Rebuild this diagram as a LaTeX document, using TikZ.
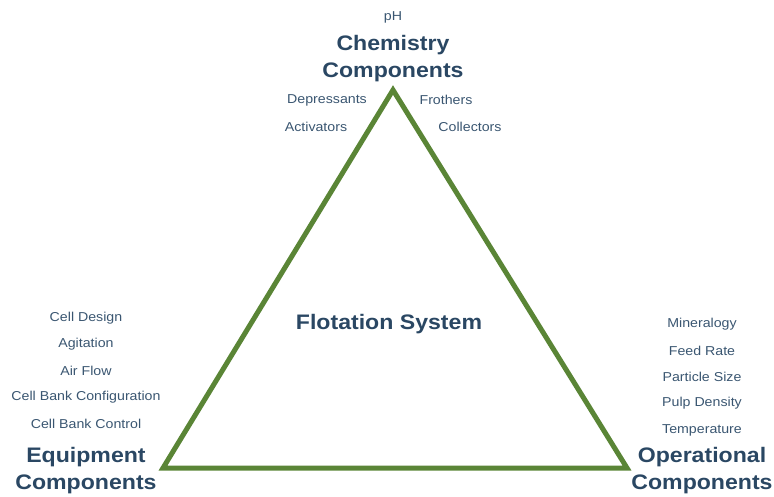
\documentclass[tikz,border=0pt]{standalone}
\usepackage{fontspec}
\setmainfont[FakeStretch=1.1]{Liberation Sans}
\usepackage{tikz}
\usepackage{xcolor}
\usetikzlibrary{positioning}

\definecolor{titleblue}{HTML}{2A4763}
\definecolor{itemblue}{HTML}{3A5671}
\definecolor{triggreen}{HTML}{5A8536}

\tikzset{
  heading/.style={font=\fontsize{21}{27}\selectfont\bfseries, text=titleblue, align=center, inner sep=0pt},
  item/.style={font=\fontsize{12.9}{14}\selectfont, text=itemblue, inner sep=0pt},
}

\begin{document}
\begin{tikzpicture}[x=1pt, y=-1pt]
  \useasboundingbox (0,0) rectangle (774,496);

  % === TRIANGLE ===
  \coordinate (top) at (393,90);
  \coordinate (bl) at (163,468);
  \coordinate (br) at (627,468);
  \draw[triggreen, line width=5pt, line join=miter] (top) -- (br) -- (bl) -- cycle;

  \node[heading] (flot) at (389,324) {Flotation System};

  % === TOP: chemistry ===
  \node[item] (ph) at (393,17) {pH};
  \node[heading] (chem) at (393,59) {Chemistry\\Components};
  \node[item] (depr) at (327,100) {Depressants};
  \node[item] (froth) at (446,100) {Frothers};
  \node[item] (activ) at (316,127) {Activators};
  \node[item] (coll) at (470,127) {Collectors};

  % === LEFT: equipment ===
  \foreach \t [count=\i] in {Cell Design, Agitation, Air Flow, Cell Bank Configuration, Cell Bank Control} {
    \node[item] (eq\i) at (86, 318+\i*26.5-26.5) {\t};
  }
  \node[heading] (equip) at (86,471) {Equipment\\Components};

  % === RIGHT: operational ===
  \foreach \t [count=\i] in {Mineralogy, Feed Rate, Particle Size, Pulp Density, Temperature} {
    \node[item] (op\i) at (702, 324+\i*26.5-26.5) {\t};
  }
  \node[heading] (oper) at (702,471) {Operational\\Components};
\end{tikzpicture}
\end{document}
